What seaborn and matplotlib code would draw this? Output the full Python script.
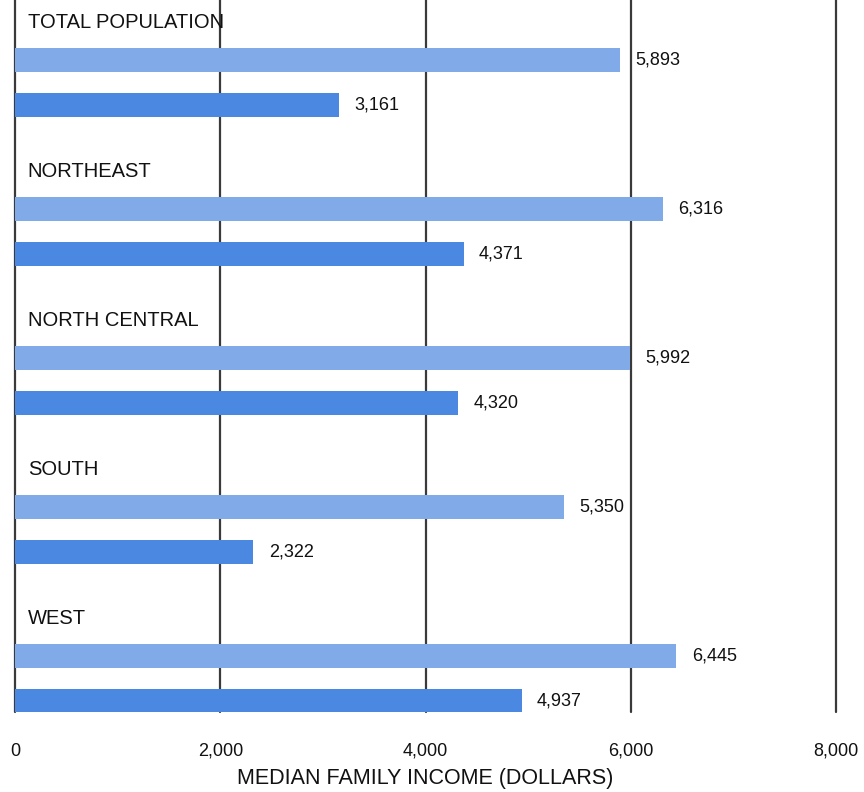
import matplotlib
matplotlib.use("Agg")
import matplotlib.pyplot as plt
import seaborn as sns
import pandas as pd

regions = ["TOTAL POPULATION", "NORTHEAST", "NORTH CENTRAL", "SOUTH", "WEST"]
all_families = [5893, 6316, 5992, 5350, 6445]
nonwhite_families = [3161, 4371, 4320, 2322, 4937]
series_names = ["All families", "Nonwhite families"]
x_ticks = [0, 2000, 4000, 6000, 8000]
x_label = "MEDIAN FAMILY INCOME (DOLLARS)"

colors = ["#80abe8", "#4a88e2"]

df = pd.DataFrame({
    "region": regions * 2,
    "income": all_families + nonwhite_families,
    "series": [series_names[0]] * len(regions) + [series_names[1]] * len(regions),
})

sns.set_theme(style="white")
plt.rcParams["font.family"] = ["Liberation Sans", "DejaVu Sans"]

fig = plt.figure(figsize=(8.64, 7.92), dpi=100)
ax = fig.add_axes([15 / 864, 80 / 792, 821 / 864, 712 / 792])

# vertical reference lines sit behind the bars
for t in x_ticks:
    ax.axvline(t, color="#3a3a3a", lw=1.6, zorder=0, clip_on=False)

sns.barplot(data=df, y="region", x="income", hue="series", order=regions,
            hue_order=series_names, palette=colors, saturation=1, orient="h",
            width=0.6, gap=0.46, dodge=True, legend=False, ax=ax, zorder=2,
            linewidth=0)

# value labels at the end of each bar
for cont in ax.containers:
    for bar in cont:
        w = bar.get_width()
        yc = bar.get_y() + bar.get_height() / 2
        ax.text(w + 150, yc, f"{int(w):,}", va="center", ha="left",
                fontsize=13, color="#111111")

# group headings above each pair of bars
for i, name in enumerate(regions):
    ax.text(125, i - 0.40, name, va="center", ha="left", fontsize=14.5,
            color="#111111")

ax.set_xlim(0, 8000)
ax.set_ylim(4.225, -0.554)
ax.set_yticks([])
ax.set_ylabel("")
ax.set_xticks(x_ticks)
ax.set_xticklabels([f"{t:,}" for t in x_ticks], fontsize=13, color="#111111")
ax.tick_params(axis="x", length=0, pad=22)
ax.set_xlabel(x_label, fontsize=15.5, color="#111111", labelpad=6)
for s in ax.spines.values():
    s.set_visible(False)

fig.savefig("out.png", dpi=100)
